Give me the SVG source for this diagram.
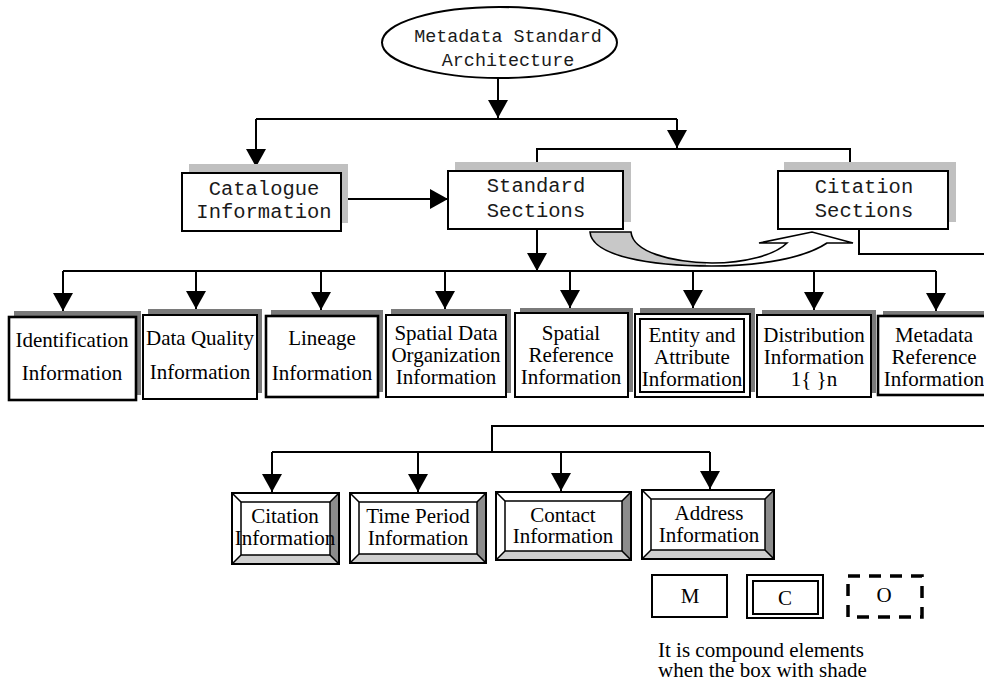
<svg xmlns="http://www.w3.org/2000/svg" width="984" height="683" viewBox="0 0 984 683">
  <style>
    .mono { font-family: "Liberation Mono", "Courier New", monospace; font-size: 20.5px; fill: #1a1a1a; text-anchor: middle; }
    .serif { font-family: "Liberation Serif", "Times New Roman", serif; font-size: 21px; fill: #000; text-anchor: middle; }
    .box { fill: #fff; stroke: #000; stroke-width: 2; }
    .thick { stroke-width: 2.6; }
    .lightShade { fill: #c0c0c0; }
    .darkShade { fill: #7a7a7a; }
    .wire { fill: none; stroke: #000; stroke-width: 2; }
    .arrow { fill: none; stroke: #000; stroke-width: 2; marker-end: url(#head); }
    .bevelLine { fill: none; stroke: #000; stroke-width: 1.5; }
  </style>
  <defs>
    <marker id="head" markerUnits="userSpaceOnUse" viewBox="0 0 18 20" refX="18" refY="10" markerWidth="18" markerHeight="20" orient="auto">
      <path d="M0,0 L18,10 L0,20 Z" fill="#000"/>
    </marker>
    <linearGradient id="swoopFill" gradientUnits="userSpaceOnUse" x1="590" y1="0" x2="853" y2="0">
      <stop offset="0" stop-color="#c8c8c8"/>
      <stop offset="0.44" stop-color="#c8c8c8"/>
      <stop offset="0.44" stop-color="#fff"/>
      <stop offset="1" stop-color="#fff"/>
    </linearGradient>
  </defs>

  <rect width="984" height="683" fill="#fff"/>

  <!-- connectors -->
  <g id="connectors">
    <path class="arrow" d="M498,78 V118"/>
    <path class="wire" d="M256,119 H677"/>
    <path class="arrow" d="M256,119 V167"/>
    <path class="arrow" d="M677,119 V148"/>
    <path class="wire" d="M537,171 V149 H850 V171"/>
    <path class="arrow" d="M341,199 H448"/>
    <path class="arrow" d="M537,229 V271"/>
    <path class="wire" d="M63,271 H936"/>
    <path class="arrow" d="M63,271 V311"/>
    <path class="arrow" d="M196,271 V309"/>
    <path class="arrow" d="M321,271 V310"/>
    <path class="arrow" d="M445,271 V309"/>
    <path class="arrow" d="M570,271 V308"/>
    <path class="arrow" d="M693,271 V308"/>
    <path class="arrow" d="M814,271 V310"/>
    <path class="arrow" d="M936,271 V311"/>
    <path class="wire" d="M859,229 V254 H984"/>
    <path class="wire" d="M984,426 H492 V452"/>
    <path class="wire" d="M272,452 H710"/>
    <path class="arrow" d="M272,452 V492"/>
    <path class="arrow" d="M418,452 V492"/>
    <path class="arrow" d="M561,452 V491"/>
    <path class="arrow" d="M710,452 V489"/>
    <!-- curved block arrow from Standard Sections to Citation Sections -->
    <path d="M590,232 L631,232 C633,252 670,262 712,263 C745,263 775,255 787,243 L759,243 L812,232 L853,243 L827,243 C805,258 760,266 712,266 C650,266 592,256 590,232 Z" fill="url(#swoopFill)" stroke="#000" stroke-width="1.6" stroke-linejoin="miter"/>
  </g>

  <!-- root -->
  <g id="root">
    <ellipse cx="499.5" cy="42.5" rx="117.5" ry="35.5" fill="#fff" stroke="#000" stroke-width="2"/>
    <text class="mono" x="508" y="42" style="font-size:18.4px">Metadata Standard</text>
    <text class="mono" x="508" y="66" style="font-size:18.4px">Architecture</text>
  </g>

  <g id="catalogue">
    <rect class="lightShade" x="189" y="164" width="159" height="59"/>
    <rect class="box" x="182" y="173" width="159" height="58"/>
    <text class="mono" x="264" y="195">Catalogue</text>
    <text class="mono" x="264" y="218">Information</text>
  </g>

  <g id="standard-sections">
    <rect class="lightShade" x="455" y="162" width="176" height="60"/>
    <rect class="box" x="448" y="171" width="175" height="58"/>
    <text class="mono" x="536" y="192">Standard</text>
    <text class="mono" x="536" y="217">Sections</text>
  </g>

  <g id="citation-sections">
    <rect class="lightShade" x="784" y="162" width="172" height="60"/>
    <rect class="box" x="778" y="171" width="170" height="58"/>
    <text class="mono" x="864" y="193">Citation</text>
    <text class="mono" x="864" y="217">Sections</text>
  </g>

  <!-- standard sections row -->
  <g id="identification">
    <rect class="darkShade" x="14" y="311" width="127" height="84"/>
    <rect class="box thick" x="9" y="317" width="127" height="83"/>
    <text class="serif" x="72" y="347">Identification</text>
    <text class="serif" x="72" y="380">Information</text>
  </g>

  <g id="data-quality">
    <rect class="darkShade" x="148" y="309" width="114" height="84"/>
    <rect class="box" x="143" y="315" width="114" height="84"/>
    <text class="serif" x="200" y="345">Data Quality</text>
    <text class="serif" x="200" y="379">Information</text>
  </g>

  <g id="lineage">
    <rect class="darkShade" x="271" y="310" width="112" height="82"/>
    <rect class="box thick" x="266" y="316" width="112" height="81"/>
    <text class="serif" x="322" y="345">Lineage</text>
    <text class="serif" x="322" y="380">Information</text>
  </g>

  <g id="spatial-data-organization">
    <rect class="darkShade" x="391" y="309" width="120" height="84"/>
    <rect class="box" x="386" y="315" width="120" height="82"/>
    <text class="serif" x="446" y="340">Spatial Data</text>
    <text class="serif" x="446" y="362">Organization</text>
    <text class="serif" x="446" y="384">Information</text>
  </g>

  <g id="spatial-reference">
    <rect class="darkShade" x="520" y="308" width="113" height="84"/>
    <rect class="box" x="515" y="313" width="113" height="84"/>
    <text class="serif" x="571" y="340">Spatial</text>
    <text class="serif" x="571" y="362">Reference</text>
    <text class="serif" x="571" y="384">Information</text>
  </g>

  <g id="entity-attribute">
    <rect class="darkShade" x="640" y="308" width="115" height="84"/>
    <rect class="box" x="635" y="314" width="115" height="83"/>
    <rect class="box" x="640" y="319" width="104" height="73"/>
    <text class="serif" x="692" y="342">Entity and</text>
    <text class="serif" x="692" y="364">Attribute</text>
    <text class="serif" x="692" y="386">Information</text>
  </g>

  <g id="distribution">
    <rect class="darkShade" x="762" y="310" width="114" height="83"/>
    <rect class="box" x="757" y="315" width="114" height="82"/>
    <text class="serif" x="814" y="342">Distribution</text>
    <text class="serif" x="814" y="364">Information</text>
    <text class="serif" x="814" y="386">1{ }n</text>
  </g>

  <g id="metadata-reference">
    <rect class="darkShade" x="883" y="311" width="110" height="80"/>
    <rect class="box thick" x="878" y="316" width="112" height="79"/>
    <text class="serif" x="934" y="342">Metadata</text>
    <text class="serif" x="934" y="364">Reference</text>
    <text class="serif" x="934" y="386">Information</text>
  </g>

  <!-- compound elements (bevelled frames) -->
  <g id="citation-information">
    <rect x="232" y="493" width="107" height="71" fill="#fff"/>
    <polygon points="339,493 339,564 330,555 330,502" fill="#8c8c8c"/>
    <polygon points="232,564 339,564 330,555 241,555" fill="#cfcfcf"/>
    <rect class="bevelLine" x="241" y="502" width="89" height="53"/>
    <path class="bevelLine" d="M232,493 L241,502 M339,493 L330,502 M232,564 L241,555 M339,564 L330,555"/>
    <rect x="232" y="493" width="107" height="71" fill="none" stroke="#000" stroke-width="2"/>
    <text class="serif" x="285" y="523">Citation</text>
    <text class="serif" x="285" y="545">Information</text>
  </g>

  <g id="time-period-information">
    <rect x="350" y="493" width="136" height="70" fill="#fff"/>
    <polygon points="486,493 486,563 477,554 477,502" fill="#8c8c8c"/>
    <polygon points="350,563 486,563 477,554 359,554" fill="#cfcfcf"/>
    <rect class="bevelLine" x="359" y="502" width="118" height="52"/>
    <path class="bevelLine" d="M350,493 L359,502 M486,493 L477,502 M350,563 L359,554 M486,563 L477,554"/>
    <rect x="350" y="493" width="136" height="70" fill="none" stroke="#000" stroke-width="2"/>
    <text class="serif" x="418" y="523">Time Period</text>
    <text class="serif" x="418" y="545">Information</text>
  </g>

  <g id="contact-information">
    <rect x="496" y="492" width="135" height="68" fill="#fff"/>
    <polygon points="631,492 631,560 622,551 622,501" fill="#8c8c8c"/>
    <polygon points="496,560 631,560 622,551 505,551" fill="#cfcfcf"/>
    <rect class="bevelLine" x="505" y="501" width="117" height="50"/>
    <path class="bevelLine" d="M496,492 L505,501 M631,492 L622,501 M496,560 L505,551 M631,560 L622,551"/>
    <rect x="496" y="492" width="135" height="68" fill="none" stroke="#000" stroke-width="2"/>
    <text class="serif" x="563" y="522">Contact</text>
    <text class="serif" x="563" y="543">Information</text>
  </g>

  <g id="address-information">
    <rect x="642" y="490" width="132" height="69" fill="#fff"/>
    <polygon points="774,490 774,559 765,550 765,499" fill="#8c8c8c"/>
    <polygon points="642,559 774,559 765,550 651,550" fill="#cfcfcf"/>
    <rect class="bevelLine" x="651" y="499" width="114" height="51"/>
    <path class="bevelLine" d="M642,490 L651,499 M774,490 L765,499 M642,559 L651,550 M774,559 L765,550"/>
    <rect x="642" y="490" width="132" height="69" fill="none" stroke="#000" stroke-width="2"/>
    <text class="serif" x="709" y="520">Address</text>
    <text class="serif" x="709" y="542">Information</text>
  </g>

  <!-- legend -->
  <g id="legend-mandatory">
    <rect class="box" x="652" y="575" width="75" height="42"/>
    <text class="serif" x="690" y="603">M</text>
  </g>
  <g id="legend-conditional">
    <rect class="box" x="747" y="575" width="76" height="43"/>
    <rect class="box" x="753" y="581" width="65" height="33"/>
    <text class="serif" x="785" y="605">C</text>
  </g>
  <g id="legend-optional">
    <rect x="848" y="576" width="74" height="41" fill="none" stroke="#000" stroke-width="3.5" stroke-dasharray="12,9"/>
    <text class="serif" x="884" y="602">O</text>
  </g>
  <g id="legend-note">
    <text class="serif" x="658" y="657" style="text-anchor:start">It is compound elements</text>
    <text class="serif" x="658" y="677" style="text-anchor:start">when the box with shade</text>
  </g>
</svg>
